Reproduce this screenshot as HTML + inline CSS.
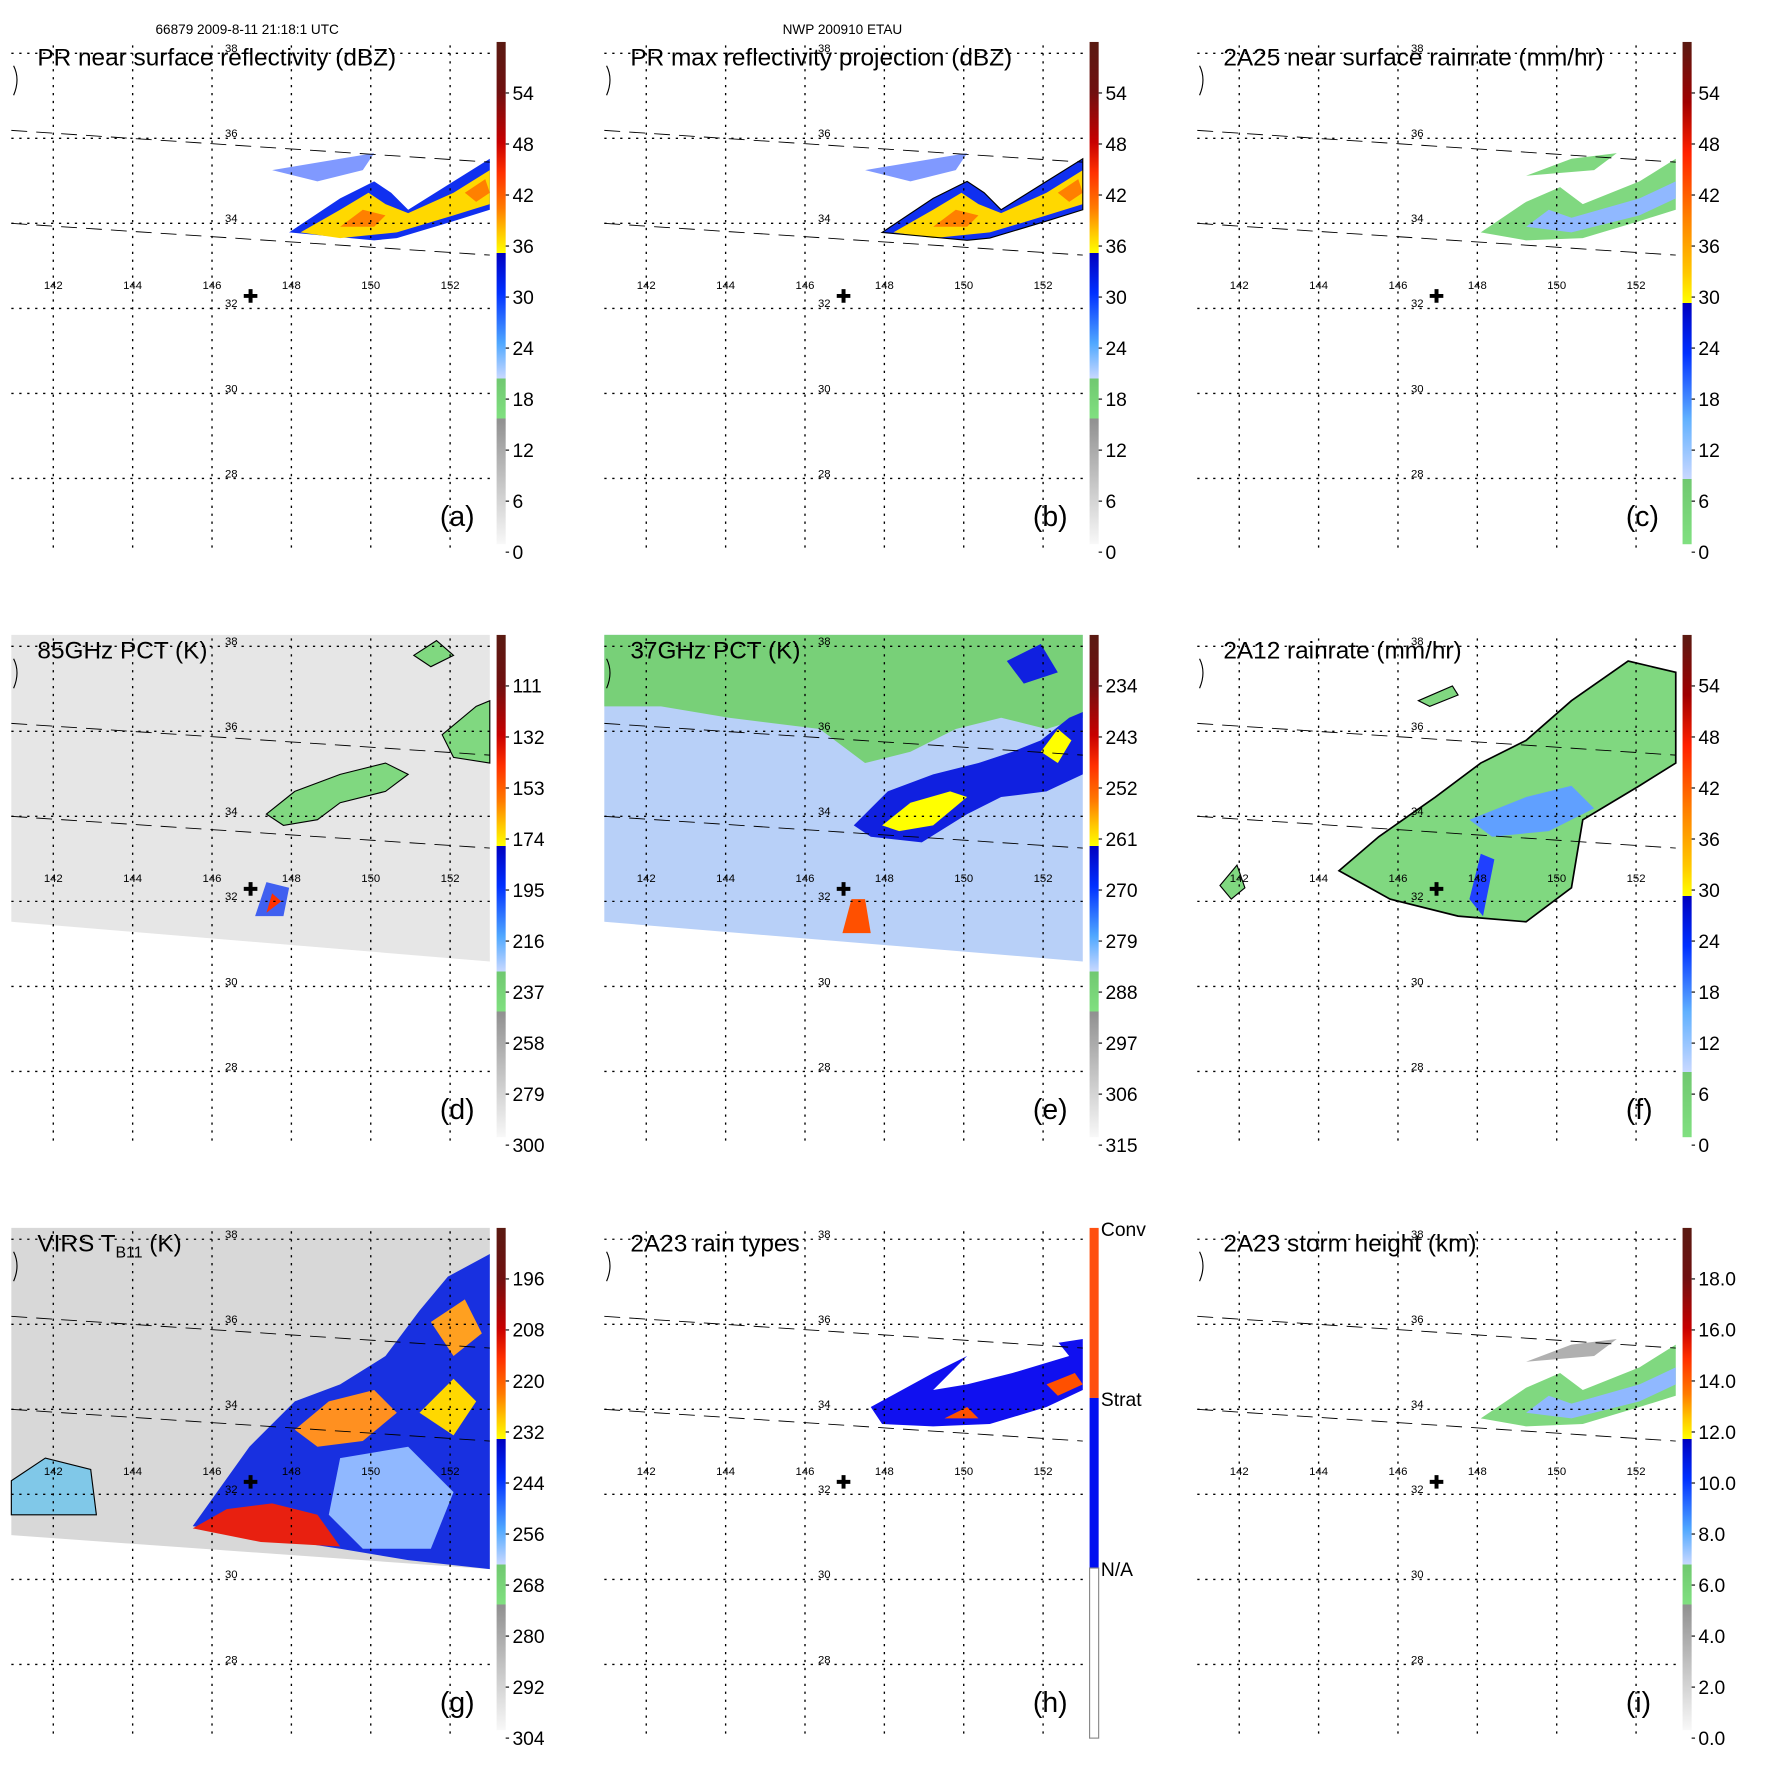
<!DOCTYPE html>
<html><head><meta charset="utf-8">
<style>
html,body{margin:0;padding:0;background:#fff;}
#wrap{width:1562px;height:1562px;transform:scale(1.1338);transform-origin:0 0;position:relative;}
svg text{font-family:"Liberation Sans",sans-serif;}
</style></head>
<body>
<div id="wrap">
<svg id="fig" width="1562" height="1562" xmlns="http://www.w3.org/2000/svg">
<text x="218" y="30" font-size="12" text-anchor="middle">66879 2009-8-11 21:18:1 UTC</text>
<text x="743" y="30" font-size="12" text-anchor="middle">NWP 200910 ETAU</text>
</svg>
</div>
<script>
const titles=["PR near surface reflectivity (dBZ)","PR max reflectivity projection (dBZ)","2A25 near surface rainrate (mm/hr)","85GHz PCT (K)","37GHz PCT (K)","2A12 rainrate (mm/hr)","VIRS T_B11 (K)","2A23 rain types","2A23 storm height (km)"];
const letters=["(a)","(b)","(c)","(d)","(e)","(f)","(g)","(h)","(i)"];
const ticksA=["54","48","42","36","30","24","18","12","6","0"];
const ticksD=["111","132","153","174","195","216","237","258","279","300"];
const ticksE=["234","243","252","261","270","279","288","297","306","315"];
const ticksG=["196","208","220","232","244","256","268","280","292","304"];
const ticksI=["18.0","16.0","14.0","12.0","10.0","8.0","6.0","4.0","2.0","0.0"];
const ticksH=["Conv","Strat","N/A"];
const lonLabels=["142","144","146","148","150","152"];
const latLabels=["38","36","34","32","30","28"];
const NS="http://www.w3.org/2000/svg";
const fig=document.getElementById('fig');
function el(t,a,p){const e=document.createElementNS(NS,t);for(const k in a)e.setAttribute(k,a[k]);(p||fig).appendChild(e);return e;}
const defs=el('defs',{});
function grad(id,stops){const g=el('linearGradient',{id:id,x1:0,y1:0,x2:0,y2:1},defs);stops.forEach(s=>el('stop',{offset:s[0],'stop-color':s[1]},g));}
grad('cbA',[[0,'#5a1a12'],[0.1,'#701010'],[0.2,'#c80000'],[0.26,'#ff3000'],[0.33,'#ff7a00'],[0.38,'#ffc800'],[0.42,'#ffff00'],[0.42,'#0000c0'],[0.5,'#0030ff'],[0.6,'#50a8ff'],[0.67,'#c8d8ff'],[0.67,'#70c870'],[0.75,'#80e080'],[0.75,'#909090'],[1,'#f8f8f8']]);
grad('cbC',[[0,'#5a1a12'],[0.12,'#a00000'],[0.22,'#ff2000'],[0.35,'#ff8000'],[0.46,'#ffc800'],[0.52,'#ffff00'],[0.52,'#0000c0'],[0.62,'#0030ff'],[0.75,'#60b0ff'],[0.87,'#c8d8ff'],[0.87,'#70c870'],[1,'#80e080']]);
const lonX=v=>47+(v-142)*35;
const latY=v=>47+(38-v)*37.5;
function panel(i){
 const ox=10+(i%3)*523, oy=37+Math.floor(i/3)*523;
 const g=el('g',{transform:`translate(${ox-10},${oy-37})`});
 
 
 const k=i;
 const top=37;
 if(k===3||k===4||k===6){
  const fill=k===3?'#e6e6e6':k===4?'#b8d0f8':'#d8d8d8';
  el('polygon',{points:`10,${top} 432,${top} 432,${k===6?338:325} 10,${k===6?308:290}`,fill:fill},g);
 }
 if(k===0||k===1){
  el('polygon',{points:'255,205 300,175 330,160 345,170 360,185 400,160 432,140 432,185 400,195 350,210 330,212',fill:'#1030f0'},g);
  el('polygon',{points:'265,205 300,185 325,170 340,180 360,188 400,170 432,150 432,180 400,190 350,205 300,210',fill:'#ffd800'},g);
  el('polygon',{points:'300,200 320,185 340,190 330,200',fill:'#ff8000'},g);
  el('polygon',{points:'410,170 428,158 432,170 420,178',fill:'#ff8000'},g);
  el('polygon',{points:'240,150 300,140 330,135 320,150 280,160',fill:'#6080ff',opacity:0.8},g);
  if(k===1)el('polygon',{points:'255,205 300,175 330,160 345,170 360,185 400,160 432,140 432,185 400,195 350,210 330,212',fill:'none',stroke:'#000','stroke-width':1},g);
 }
 if(k===2||k===8){
  el('polygon',{points:'260,205 300,178 330,165 350,180 400,160 432,140 432,185 400,195 350,210 300,212',fill:'#80d880'},g);
  el('polygon',{points:'300,200 320,185 340,192 400,175 432,160 432,175 400,190 340,205',fill:'#90b8ff'},g);
  el('polygon',{points:'300,155 340,140 380,135 360,150',fill:k===8?'#b0b0b0':'#80d880'},g);
 }
 if(k===3){
  el('polygon',{points:'235,195 260,175 300,160 340,150 360,160 340,175 300,185 280,200 250,205',fill:'#80d880',stroke:'#000'},g);
  el('polygon',{points:'390,125 420,100 432,95 432,150 400,145',fill:'#80d880',stroke:'#000'},g);
  el('polygon',{points:'365,55 385,42 400,55 380,65',fill:'#80d880',stroke:'#000'},g);
  el('polygon',{points:'225,285 235,255 255,260 250,285',fill:'#4060f0'},g);
  el('polygon',{points:'235,282 240,265 248,272',fill:'#ff3000'},g);
 }
 if(k===4){
  el('polygon',{points:'10,37 432,37 432,110 400,120 360,110 320,120 280,140 240,150 200,120 120,110 60,100 10,100',fill:'#78d078'},g);
  el('polygon',{points:'230,205 260,175 300,160 340,150 370,140 395,130 420,110 432,105 432,160 400,175 360,180 330,195 290,220 245,215',fill:'#1020e0'},g);
  el('polygon',{points:'255,205 280,185 315,175 330,180 300,205 270,210',fill:'#ffff00'},g);
  el('polygon',{points:'395,140 410,120 422,130 410,150',fill:'#ffff00'},g);
  el('polygon',{points:'365,60 395,45 410,70 380,80',fill:'#1020e0'},g);
  el('polygon',{points:'220,300 228,270 240,270 245,300',fill:'#ff5000'},g);
 }
 if(k===5){
  el('polygon',{points:'135,245 170,215 220,180 260,150 300,130 340,95 390,60 432,70 432,150 400,170 350,200 340,260 300,290 240,285 180,270',fill:'#80d880',stroke:'#000','stroke-width':1.5},g);
  el('polygon',{points:'250,200 300,180 340,170 360,190 320,210 270,215',fill:'#60a0ff'},g);
  el('polygon',{points:'250,270 260,230 272,235 262,285',fill:'#2040ff'},g);
  el('polygon',{points:'205,95 235,82 240,90 215,100',fill:'#80d880',stroke:'#000'},g);
  el('polygon',{points:'30,258 45,240 52,260 40,270',fill:'#80d880',stroke:'#000'},g);
 }
 if(k===6){
  el('polygon',{points:'170,300 220,230 260,190 300,175 340,150 370,110 395,80 432,60 432,338 360,330 300,320',fill:'#1830e0'},g);
  el('polygon',{points:'260,215 290,190 330,180 350,200 320,225 280,230',fill:'#ff9020'},g);
  el('polygon',{points:'370,200 400,170 420,190 400,220',fill:'#ffd800'},g);
  el('polygon',{points:'380,120 410,100 425,130 400,150',fill:'#ffa020'},g);
  el('polygon',{points:'300,240 360,230 400,270 380,320 320,320 290,290',fill:'#90b8ff'},g);
  el('polygon',{points:'170,302 200,285 240,280 280,290 300,318 230,314',fill:'#e82010'},g);
  el('polygon',{points:'10,260 40,240 80,250 85,290 10,290',fill:'#80c8e8',stroke:'#000'},g);
 }
 if(k===7){
  el('polygon',{points:'245,195 300,165 330,150 350,160 400,140 432,135 432,180 400,195 350,210 300,212 255,210',fill:'#1010f0'},g);
  el('polygon',{points:'300,180 340,140 400,125 420,150 370,165 330,175',fill:'#ffffff'},g);
  el('polygon',{points:'310,205 330,195 340,205',fill:'#ff5000'},g);
  el('polygon',{points:'400,175 425,165 432,175 410,185',fill:'#ff5000'},g);
 }
 const sw=[[10,115,432,143],[10,197,432,225]];
 sw.forEach(s=>el('line',{x1:s[0],y1:s[1],x2:s[2],y2:s[3],stroke:'#000','stroke-width':0.8,'stroke-dasharray':'14,8'},g));
 lonLabels.forEach((t)=>{const x=lonX(+t);el('line',{x1:x,y1:40,x2:x,y2:487,stroke:'#000','stroke-width':1.2,'stroke-dasharray':'2,5'},g);
  const tx=el('text',{x:x,y:255,'font-size':10,'text-anchor':'middle'},g);tx.textContent=t;});
 latLabels.forEach((t)=>{const y=latY(+t);el('line',{x1:10,y1:y,x2:432,y2:y,stroke:'#000','stroke-width':1.2,'stroke-dasharray':'2,5'},g);
  const tx=el('text',{x:204,y:y-1,'font-size':10,'text-anchor':'middle'},g);tx.textContent=t;});
 el('path',{d:'M221,255 v12 M215,261 h12',stroke:'#000','stroke-width':3.5},g);
 el('path',{d:'M12,58 q6,12 0,26',fill:'none',stroke:'#000'},g);
 const tt=el('text',{x:33,y:58,'font-size':21.5},g);
 
 
 if(k===6){tt.innerHTML='VIRS T<tspan font-size="14" dy="5">B11</tspan><tspan dy="-5"> (K)</tspan>';}
 else tt.textContent=titles[k];
 const lt=el('text',{x:388,y:464,'font-size':25},g);
 
 
 lt.textContent=letters[k];
 const cb=el('g',{},g);
 
 
 if(k===7){
  el('rect',{x:438,y:37,width:8,height:150,fill:'#ff5010'},cb);
  el('rect',{x:438,y:187,width:8,height:150,fill:'#0010f0'},cb);
  el('rect',{x:438,y:337,width:8,height:150,fill:'#fff',stroke:'#888'},cb);
  ticksH.forEach((t,j)=>{const tx=el('text',{x:448,y:44+j*150,'font-size':17},cb);tx.textContent=t;});
 } else {
  const fillId=(k===2||k===5)?'cbC':'cbA';
  el('rect',{x:438,y:37,width:8,height:443,fill:`url(#${fillId})`},cb);
  const tk=[ticksA,ticksA,ticksA,ticksD,ticksE,ticksA,ticksG,null,ticksI][k];
  tk.forEach((t,j)=>{const y=82+j*45;el('line',{x1:446,y1:y,x2:449,y2:y,stroke:'#000'},cb);
   const tx=el('text',{x:452,y:y+6,'font-size':17},cb);tx.textContent=t;});
 }
}
for(let i=0;i<9;i++)panel(i);
</script>
</body></html>
